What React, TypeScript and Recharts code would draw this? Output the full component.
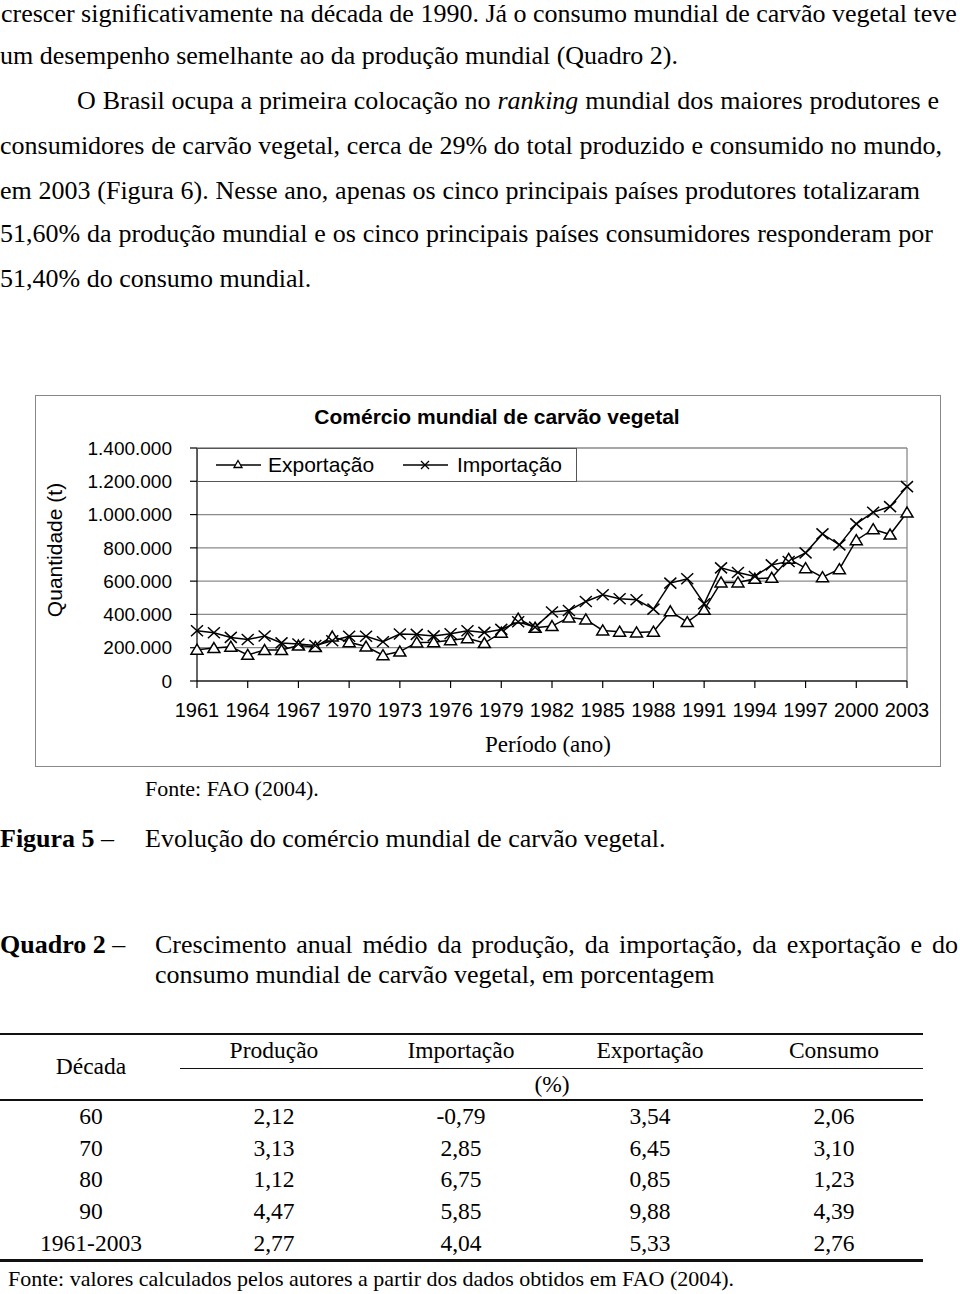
import React from 'react';
import { LineChart, Line, XAxis, YAxis, CartesianGrid, Legend, ReferenceLine } from 'recharts';

// ---------- chart data ----------
const years = [
  1961, 1962, 1963, 1964, 1965, 1966, 1967, 1968, 1969, 1970,
  1971, 1972, 1973, 1974, 1975, 1976, 1977, 1978, 1979, 1980,
  1981, 1982, 1983, 1984, 1985, 1986, 1987, 1988, 1989, 1990,
  1991, 1992, 1993, 1994, 1995, 1996, 1997, 1998, 1999, 2000,
  2001, 2002, 2003,
];
const exportacao = [
  188000, 198000, 206000, 157000, 186000, 186000, 213000, 205000, 267000, 233000,
  207000, 155000, 177000, 232000, 233000, 245000, 257000, 228000, 290000, 375000,
  320000, 330000, 382000, 370000, 304000, 296000, 292000, 296000, 419000, 354000,
  428000, 592000, 592000, 614000, 620000, 734000, 678000, 624000, 672000, 846000,
  912000, 880000, 1012000,
];
const importacao = [
  302000, 290000, 262000, 249000, 270000, 229000, 222000, 213000, 242000, 269000,
  269000, 236000, 282000, 280000, 271000, 284000, 302000, 292000, 310000, 356000,
  324000, 415000, 424000, 478000, 518000, 494000, 488000, 432000, 588000, 614000,
  464000, 680000, 652000, 628000, 698000, 718000, 770000, 884000, 818000, 944000,
  1014000, 1048000, 1168000,
];
const xTicks = [1961, 1964, 1967, 1970, 1973, 1976, 1979, 1982, 1985, 1988, 1991, 1994, 1997, 2000, 2003];
const yTicks = [0, 200000, 400000, 600000, 800000, 1000000, 1200000, 1400000];

// ---------- table data ----------
const tableHeaders = ['Produção', 'Importação', 'Exportação', 'Consumo'];
const decadas = ['60', '70', '80', '90', '1961-2003'];
const producaoPct = ['2,12', '3,13', '1,12', '4,47', '2,77'];
const importacaoPct = ['-0,79', '2,85', '6,75', '5,85', '4,04'];
const exportacaoPct = ['3,54', '6,45', '0,85', '9,88', '5,33'];
const consumoPct = ['2,06', '3,10', '1,23', '4,39', '2,76'];

const chartData = years.map((y, i) => ({ year: y, exp: exportacao[i], imp: importacao[i] }));

const SANS = '"Liberation Sans", Arial, sans-serif';
const SERIF = '"Liberation Serif", "Times New Roman", serif';

const fmt = (v: number) => String(v).replace(/\B(?=(\d{3})+(?!\d))/g, '.');

const TriangleDot = (props: any) => {
  const { cx, cy, index } = props;
  if (cx == null || cy == null) return <g key={`t${index}`} />;
  return (
    <path
      key={`t${index}`}
      d={`M${cx},${cy - 5.5} L${cx + 6},${cy + 4.5} L${cx - 6},${cy + 4.5} Z`}
      fill="#fff"
      stroke="#000"
      strokeWidth={1.5}
    />
  );
};

const CrossDot = (props: any) => {
  const { cx, cy, index } = props;
  if (cx == null || cy == null) return <g key={`x${index}`} />;
  return (
    <path
      key={`x${index}`}
      d={`M${cx - 6},${cy - 5.5} L${cx + 6},${cy + 5.5} M${cx + 6},${cy - 5.5} L${cx - 6},${cy + 5.5}`}
      fill="none"
      stroke="#000"
      strokeWidth={1.5}
    />
  );
};

const renderLegend = () => (
  <div
    style={{
      position: 'relative',
      width: 380,
      height: 34,
      border: '1px solid #555',
      boxSizing: 'border-box',
      background: '#fff',
      fontFamily: SANS,
      fontSize: 21,
      color: '#000',
    }}
  >
    <svg width={380} height={34} style={{ position: 'absolute', left: -1, top: -1 }}>
      <line x1={19} x2={64} y1={17} y2={17} stroke="#000" strokeWidth={1.5} />
      <path d="M41,12.5 L45,19.5 L37,19.5 Z" fill="#fff" stroke="#000" strokeWidth={1.3} />
      <line x1={206} x2={251} y1={17} y2={17} stroke="#000" strokeWidth={1.5} />
      <path d="M224,13 L232,21 M232,13 L224,21" stroke="#000" strokeWidth={1.3} />
    </svg>
    <span style={{ position: 'absolute', left: 70, top: 0, lineHeight: '32px' }}>Exportação</span>
    <span style={{ position: 'absolute', left: 259, top: 0, lineHeight: '32px' }}>Importação</span>
  </div>
);

const TextLine = ({ top, left = 0, width, justify = false, size = 26, lh = 30, children, style }: any) => (
  <div
    style={{
      position: 'absolute',
      top,
      left,
      width,
      whiteSpace: 'nowrap',
      fontSize: size,
      lineHeight: `${lh}px`,
      textAlign: justify ? 'justify' : 'left',
      textAlignLast: justify ? 'justify' : 'auto',
      ...style,
    }}
  >
    {children}
  </div>
);

const colCenters = [91, 274, 461, 650, 834];
const rowCenters = [1117, 1149, 1180, 1212, 1244];

const Cell = ({ cx, cy, children }: any) => (
  <div
    style={{
      position: 'absolute',
      left: cx - 100,
      width: 200,
      top: cy - 15,
      textAlign: 'center',
      fontSize: 23.5,
      lineHeight: '28px',
      whiteSpace: 'nowrap',
    }}
  >
    {children}
  </div>
);

const HLine = ({ top, left, width, h }: any) => (
  <div style={{ position: 'absolute', top: top - h / 2, left, width, height: h, background: '#111' }} />
);

export default function App() {
  const tableCols = [producaoPct, importacaoPct, exportacaoPct, consumoPct];
  return (
    <div
      style={{
        position: 'relative',
        width: 960,
        height: 1294,
        background: '#fff',
        color: '#000',
        fontFamily: SERIF,
        overflow: 'hidden',
      }}
    >
      <style>{'body{margin:0;padding:0;background:#fff;}'}</style>

      {/* body text */}
      <TextLine top={1} lh={26} left={1} width={955} justify>
        crescer significativamente na década de 1990. Já o consumo mundial de carvão vegetal teve
      </TextLine>
      <TextLine top={41}>um desempenho semelhante ao da produção mundial (Quadro 2).</TextLine>
      <TextLine top={86} left={77} width={862} justify>
        O Brasil ocupa a primeira colocação no <i>ranking</i> mundial dos maiores produtores e
      </TextLine>
      <TextLine top={131} width={942} justify>
        consumidores de carvão vegetal, cerca de 29% do total produzido e consumido no mundo,
      </TextLine>
      <TextLine top={176} width={920} justify>
        em 2003 (Figura 6). Nesse ano, apenas os cinco principais países produtores totalizaram
      </TextLine>
      <TextLine top={219} width={933} justify>
        51,60% da produção mundial e os cinco principais países consumidores responderam por
      </TextLine>
      <TextLine top={264}>51,40% do consumo mundial.</TextLine>

      {/* chart box */}
      <div
        style={{
          position: 'absolute',
          left: 35,
          top: 395,
          width: 906,
          height: 372,
          border: '1px solid #888',
          boxSizing: 'border-box',
        }}
      >
        <div
          style={{
            position: 'absolute',
            left: 0,
            width: 922,
            top: 9,
            textAlign: 'center',
            fontFamily: SANS,
            fontWeight: 'bold',
            fontSize: 21,
            lineHeight: '24px',
            whiteSpace: 'nowrap',
          }}
        >
          Comércio mundial de carvão vegetal
        </div>
        <div
          style={{
            position: 'absolute',
            left: 19 - 100,
            top: 154 - 14,
            width: 200,
            height: 28,
            lineHeight: '28px',
            textAlign: 'center',
            fontFamily: SANS,
            fontSize: 21,
            transform: 'rotate(-90deg)',
            whiteSpace: 'nowrap',
          }}
        >
          Quantidade (t)
        </div>
        <div
          style={{
            position: 'absolute',
            left: 512 - 100,
            width: 200,
            top: 350 - 15,
            lineHeight: '28px',
            textAlign: 'center',
            fontFamily: SERIF,
            fontSize: 23,
            whiteSpace: 'nowrap',
          }}
        >
          Período (ano)
        </div>
        <div style={{ position: 'absolute', left: 0, top: 0 }}>
          <LineChart width={903} height={370} data={chartData} margin={{ top: 52, right: 32, bottom: 0, left: 0 }}>
            <CartesianGrid horizontal vertical={false} stroke="#8a8a8a" strokeWidth={1.3} />
            <ReferenceLine x={2003} stroke="#8a8a8a" strokeWidth={1.3} />
            <XAxis
              dataKey="year"
              type="number"
              domain={[1961, 2003]}
              ticks={xTicks}
              interval={0}
              height={85}
              tickSize={7}
              tickMargin={15}
              axisLine={{ stroke: '#000', strokeWidth: 1.2 }}
              tickLine={{ stroke: '#000', strokeWidth: 1.2 }}
              tick={{ fill: '#000', fontSize: 20, fontFamily: SANS }}
            />
            <YAxis
              type="number"
              domain={[0, 1400000]}
              ticks={yTicks}
              interval={0}
              width={161}
              tickSize={7}
              tickMargin={18}
              tickFormatter={fmt}
              axisLine={{ stroke: '#000', strokeWidth: 1.2 }}
              tickLine={{ stroke: '#000', strokeWidth: 1.2 }}
              tick={{ fill: '#000', fontSize: 19, fontFamily: SANS }}
            />
            <Legend
              layout="horizontal"
              verticalAlign="middle"
              align="center"
              content={renderLegend}
              wrapperStyle={{ left: 161, top: 52, width: 380, height: 34 }}
            />
            <Line
              type="linear"
              dataKey="exp"
              name="Exportação"
              stroke="#000"
              strokeWidth={1.5}
              dot={TriangleDot}
              activeDot={false}
              isAnimationActive={false}
            />
            <Line
              type="linear"
              dataKey="imp"
              name="Importação"
              stroke="#000"
              strokeWidth={1.5}
              dot={CrossDot}
              activeDot={false}
              isAnimationActive={false}
            />
          </LineChart>
        </div>
      </div>

      <TextLine top={776} left={145} size={22} lh={26}>Fonte: FAO (2004).</TextLine>

      {/* figure caption */}
      <TextLine top={824}>
        <b>Figura 5</b> –
      </TextLine>
      <TextLine top={824} left={145}>Evolução do comércio mundial de carvão vegetal.</TextLine>

      {/* quadro caption */}
      <TextLine top={930}>
        <b>Quadro 2</b> –
      </TextLine>
      <TextLine top={930} left={155} width={803} justify>
        Crescimento anual médio da produção, da importação, da exportação e do
      </TextLine>
      <TextLine top={960} left={155}>consumo mundial de carvão vegetal, em porcentagem</TextLine>

      {/* table */}
      <HLine top={1033.5} left={0} width={923} h={2} />
      <HLine top={1068.5} left={180} width={743} h={1.5} />
      <HLine top={1100} left={0} width={923} h={2} />
      <HLine top={1260.5} left={0} width={923} h={2.5} />
      <Cell cx={colCenters[0]} cy={1067}>Década</Cell>
      {tableHeaders.map((h, i) => (
        <Cell key={h} cx={colCenters[i + 1]} cy={1051}>
          {h}
        </Cell>
      ))}
      <Cell cx={552} cy={1085}>(%)</Cell>
      {decadas.map((d, r) => (
        <React.Fragment key={d}>
          <Cell cx={colCenters[0]} cy={rowCenters[r]}>
            {d}
          </Cell>
          {tableCols.map((col, c) => (
            <Cell key={c} cx={colCenters[c + 1]} cy={rowCenters[r]}>
              {col[r]}
            </Cell>
          ))}
        </React.Fragment>
      ))}
      <TextLine top={1266} left={8} size={22} lh={26}>
        Fonte: valores calculados pelos autores a partir dos dados obtidos em FAO (2004).
      </TextLine>
    </div>
  );
}
